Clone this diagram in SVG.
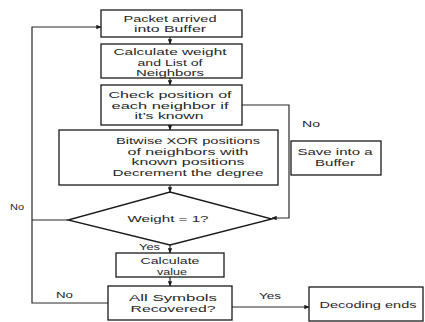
<svg xmlns="http://www.w3.org/2000/svg" width="425" height="322" viewBox="0 0 425 322">
<defs>
<marker id="ah" viewBox="0 0 8 8" refX="7.5" refY="4" markerWidth="5" markerHeight="5" orient="auto" markerUnits="userSpaceOnUse">
<path d="M0,0.5 L8,4 L0,7.5 z" fill="#1a1a1a"/>
</marker>
<style>
.b{fill:#fff;stroke:#1a1a1a;stroke-width:1.3}
.c{fill:none;stroke:#2a2a2a;stroke-width:1.2}
text{font-family:"Liberation Sans",Arial,sans-serif;font-size:9.5px;fill:#262626;text-anchor:middle}
.l{text-anchor:start}
</style>
</defs>
<rect width="425" height="322" fill="#fff"/>
<g id="connectors">
<line class="c" x1="170" y1="37" x2="170" y2="44" marker-end="url(#ah)"/>
<line class="c" x1="170" y1="78" x2="170" y2="85" marker-end="url(#ah)"/>
<line class="c" x1="170" y1="125" x2="170" y2="130" marker-end="url(#ah)"/>
<line class="c" x1="170" y1="185" x2="170" y2="192" marker-end="url(#ah)"/>
<line class="c" x1="170" y1="245" x2="170" y2="253" marker-end="url(#ah)"/>
<line class="c" x1="170" y1="277" x2="170" y2="286" marker-end="url(#ah)"/>
<polyline class="c" points="242,105 289,105 289,218 272,218" marker-end="url(#ah)"/>
<polyline class="c" points="68,220 32,220" />
<polyline class="c" points="108,303 32,303 32,27 101,27" marker-end="url(#ah)"/>
<line class="c" x1="232" y1="307" x2="309" y2="307" marker-end="url(#ah)"/>
<text class="l" x="302" y="127" textLength="18" lengthAdjust="spacingAndGlyphs">No</text>
<text class="l" x="10" y="210" textLength="14" lengthAdjust="spacingAndGlyphs">No</text>
<text class="l" x="56" y="298" textLength="17" lengthAdjust="spacingAndGlyphs">No</text>
<text class="l" x="139" y="250" textLength="21" lengthAdjust="spacingAndGlyphs">Yes</text>
<text class="l" x="259" y="299" textLength="22" lengthAdjust="spacingAndGlyphs">Yes</text>
</g>
<g id="packet">
<rect class="b" x="101" y="10" width="141" height="27"/>
<text x="170" y="21.5" textLength="93" lengthAdjust="spacingAndGlyphs">Packet arrived</text>
<text x="170" y="32" textLength="72" lengthAdjust="spacingAndGlyphs">into Buffer</text>
</g>
<g id="calcweight">
<rect class="b" x="101" y="44" width="141" height="34"/>
<text x="170" y="55" textLength="113" lengthAdjust="spacingAndGlyphs">Calculate weight</text>
<text x="170" y="65.5" textLength="65" lengthAdjust="spacingAndGlyphs">and List of</text>
<text x="170" y="76" textLength="68" lengthAdjust="spacingAndGlyphs">Neighbors</text>
</g>
<g id="check">
<rect class="b" x="101" y="85" width="141" height="40"/>
<text x="170" y="98" textLength="123" lengthAdjust="spacingAndGlyphs">Check position of</text>
<text x="170" y="108.5" textLength="117" lengthAdjust="spacingAndGlyphs">each neighbor if</text>
<text x="169" y="119" textLength="69" lengthAdjust="spacingAndGlyphs">it’s known</text>
</g>
<g id="xor">
<rect class="b" x="59" y="130" width="219" height="55"/>
<text x="188" y="144" textLength="144" lengthAdjust="spacingAndGlyphs">Bitwise XOR positions</text>
<text x="188" y="154.5" textLength="121" lengthAdjust="spacingAndGlyphs">of neighbors with</text>
<text x="188" y="165" textLength="113" lengthAdjust="spacingAndGlyphs">known positions</text>
<text x="188" y="175.5" textLength="151" lengthAdjust="spacingAndGlyphs">Decrement the degree</text>
</g>
<g id="weight">
<polygon class="b" points="170,192 272,219 170,245 68,220"/>
<text x="168" y="222" textLength="81" lengthAdjust="spacingAndGlyphs">Weight = 1?</text>
</g>
<g id="save">
<rect class="b" x="291" y="141" width="90" height="34"/>
<text x="335" y="155" textLength="75" lengthAdjust="spacingAndGlyphs">Save into a</text>
<text x="335" y="165.5" textLength="40" lengthAdjust="spacingAndGlyphs">Buffer</text>
</g>
<g id="calcvalue">
<rect class="b" x="116" y="253" width="108" height="24"/>
<text x="170" y="264" textLength="59" lengthAdjust="spacingAndGlyphs">Calculate</text>
<text x="172" y="274.5" textLength="30" lengthAdjust="spacingAndGlyphs">value</text>
</g>
<g id="allsymbols">
<rect class="b" x="108" y="286" width="124" height="34"/>
<text x="173" y="301" textLength="88" lengthAdjust="spacingAndGlyphs">All Symbols</text>
<text x="173" y="311.5" textLength="85" lengthAdjust="spacingAndGlyphs">Recovered?</text>
</g>
<g id="decoding">
<rect class="b" x="309" y="287" width="114" height="34"/>
<text x="368" y="308" textLength="97" lengthAdjust="spacingAndGlyphs">Decoding ends</text>
</g>
</svg>
